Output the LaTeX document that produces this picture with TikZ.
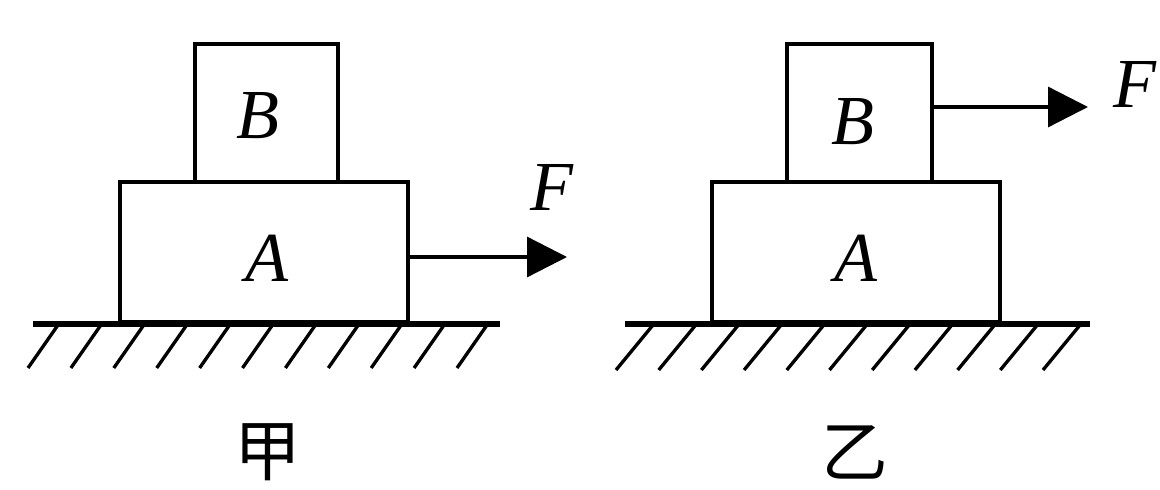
\documentclass[tikz,border=0pt]{standalone}
\usepackage{fontspec}
\setmainfont{Liberation Serif}
\newfontfamily\cjk{Noto Sans CJK SC}
\usetikzlibrary{arrows.meta}
\begin{document}
\begin{tikzpicture}[x=0.02cm,y=-0.02cm,
  blk/.style={draw,line width=2.1pt,inner sep=0pt,fill=white},
  lbl/.style={font=\fontsize{40}{40}\selectfont\itshape,inner sep=0pt},
  cjklbl/.style={font=\cjk\fontsize{38}{38}\selectfont,inner sep=0pt},
  ground/.style={line width=3.3pt},
  hatch/.style={line width=1.9pt},
  force/.style={line width=1.9pt,-{Triangle[length=0.8cm,width=0.8cm]}}]
\useasboundingbox (0,0) rectangle (1160,490);
% ---- left (jia) ----
\node[blk,minimum width=5.76cm,minimum height=2.8cm] (A1) at (264,252) {};
\node[blk,minimum width=2.86cm,minimum height=2.76cm] (B1) at (266.5,113) {};
\node[lbl] (tA1) at (267,258) {A};
\node[lbl] (tB1) at (258,116) {B};
\draw[ground] (33,324) -- (500,324);
\foreach \i in {0,...,10} {
  \draw[hatch] ({58+42.9*\i},325) -- ({28+42.9*\i},368);
}
\coordinate (E1) at (567,257);
\draw[force] (A1.east |- E1) -- (E1);
\node[lbl] (F1) at (552,187) {F};
\node[cjklbl] (j) at (268,452) {甲};
% ---- right (yi) ----
\node[blk,minimum width=5.76cm,minimum height=2.8cm] (A2) at (856,252) {};
\node[blk,minimum width=2.9cm,minimum height=2.76cm] (B2) at (859.5,113) {};
\node[lbl] (tA2) at (856,258) {A};
\node[lbl] (tB2) at (853,122) {B};
\draw[ground] (625,324) -- (1090,324);
\foreach \i in {0,...,10} {
  \draw[hatch] ({653+42.7*\i},325) -- ({616+42.7*\i},370);
}
\coordinate (E2) at (1088,107);
\draw[force] (B2.east |- E2) -- (E2);
\node[lbl] (F2) at (1135,84) {F};
\node[cjklbl] (y) at (855,452) {乙};
\end{tikzpicture}
\end{document}
